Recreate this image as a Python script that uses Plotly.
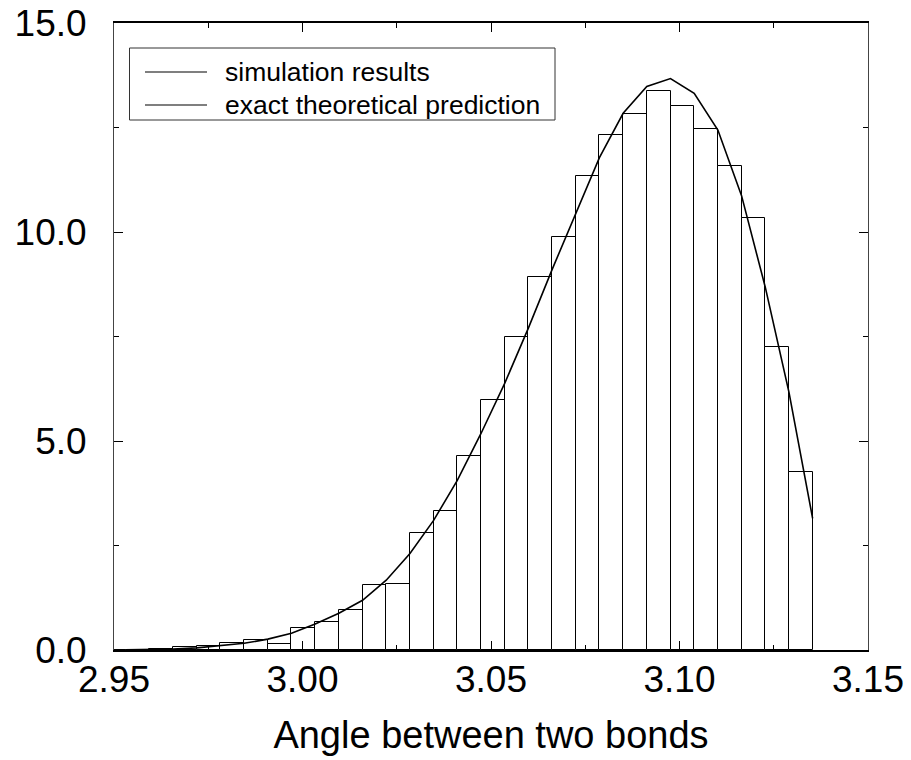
import math
import plotly.graph_objects as go

# Histogram of the bond angle (bin width pi/500), left to right
bin_centers = [2.94995, 2.95624, 2.96252, 2.96880, 2.97509, 2.98137, 2.98765,
               2.99394, 3.00022, 3.00650, 3.01279, 3.01907, 3.02535, 3.03164,
               3.03792, 3.04420, 3.05049, 3.05677, 3.06306, 3.06934, 3.07562,
               3.08191, 3.08819, 3.09447, 3.10076, 3.10704, 3.11332, 3.11961,
               3.12589, 3.13218]
sim_density = [0.005, 0.01, 0.02, 0.06, 0.09, 0.16, 0.23,
               0.14, 0.52, 0.66, 0.95, 1.55, 1.58, 2.79,
               3.32, 4.63, 5.99, 7.50, 8.93, 9.87, 11.33,
               12.33, 12.83, 13.37, 13.02, 12.46, 11.58, 10.33,
               7.25, 4.27]
bin_width = math.pi / 500

# Exact theoretical density sampled at the bin edges
theory_angle = [2.95309, 2.95938, 2.96566, 2.97194, 2.97823, 2.98451, 2.99080,
                2.99708, 3.00336, 3.00965, 3.01593, 3.02221, 3.02850, 3.03478,
                3.04106, 3.04735, 3.05363, 3.05991, 3.06620, 3.07248, 3.07876,
                3.08505, 3.09133, 3.09761, 3.10390, 3.11018, 3.11646, 3.12275,
                3.12903, 3.13531]
theory_density = [0.007, 0.012, 0.025, 0.05, 0.10, 0.16, 0.26,
                  0.40, 0.62, 0.88, 1.19, 1.67, 2.31, 3.10,
                  4.06, 5.18, 6.38, 7.70, 9.10, 10.45, 11.78,
                  12.84, 13.48, 13.67, 13.32, 12.44, 10.87, 8.68,
                  6.17, 3.15]

x_ticks = [2.95, 3.00, 3.05, 3.10, 3.15]
y_ticks = [0.0, 5.0, 10.0, 15.0]
legend_labels = ["simulation results", "exact theoretical prediction"]

FONT = "Arial, 'Liberation Sans', Helvetica, sans-serif"

fig = go.Figure()
fig.add_trace(go.Bar(
    x=bin_centers, y=sim_density, width=bin_width,
    marker=dict(color="white", line=dict(color="black", width=1)),
    showlegend=False,
))
fig.add_trace(go.Scatter(
    x=theory_angle, y=theory_density, mode="lines",
    line=dict(color="black", width=1.6), showlegend=False,
))

W, H = 911, 760
L, R, T, B = 114, 43, 23, 110
pw, ph = W - L - R, H - T - B


def px(x):
    return (x - L) / pw


def py(y):
    return (H - B - y) / ph


# Legend frame, line samples and labels
shapes = [dict(type="rect", xref="paper", yref="paper",
               x0=px(129.5), x1=px(555), y0=py(48), y1=py(120),
               line=dict(color="#333", width=1), fillcolor="white", layer="above")]
annotations = []
for i, label in enumerate(legend_labels):
    yy = 72 + i * 33
    shapes.append(dict(type="line", xref="paper", yref="paper",
                       x0=px(145), x1=px(207), y0=py(yy), y1=py(yy),
                       line=dict(color="black", width=1.2), layer="above"))
    annotations.append(dict(xref="paper", yref="paper", x=px(223), y=py(yy),
                            text=label, showarrow=False, xanchor="left",
                            yanchor="middle", font=dict(family=FONT, size=26.5, color="black")))

fig.update_layout(
    width=W, height=H,
    margin=dict(l=L, r=R, t=T, b=B, pad=0, autoexpand=False),
    paper_bgcolor="white", plot_bgcolor="white",
    bargap=0,
    font=dict(family=FONT, color="black"),
    shapes=shapes, annotations=annotations,
    xaxis=dict(
        range=[2.95, 3.15], tickvals=x_ticks, ticktext=[f"{v:.2f}" for v in x_ticks],
        ticks="inside", ticklen=9, tickcolor="black", tickwidth=1,
        minor=dict(dtick=0.025, tick0=2.95, ticks="inside", ticklen=5, tickcolor="black"),
        showline=True, linecolor="black", linewidth=1.5, mirror="allticks",
        showgrid=False, zeroline=False, automargin=False,
        tickfont=dict(family=FONT, size=37), ticklabelstandoff=-4,
        title=dict(text="Angle between two bonds", font=dict(family=FONT, size=38), standoff=22),
    ),
    yaxis=dict(
        range=[0, 15], tickvals=y_ticks, ticktext=[f"{v:.1f}" for v in y_ticks],
        ticks="inside", ticklen=9, tickcolor="black", tickwidth=1,
        minor=dict(dtick=2.5, tick0=0, ticks="inside", ticklen=5, tickcolor="black"),
        showline=True, linecolor="#444", linewidth=1, mirror="allticks",
        showgrid=False, zeroline=False, automargin=False,
        tickfont=dict(family=FONT, size=37),
        ticklabelstandoff=19,
    ),
)

fig.write_html("out.html")
